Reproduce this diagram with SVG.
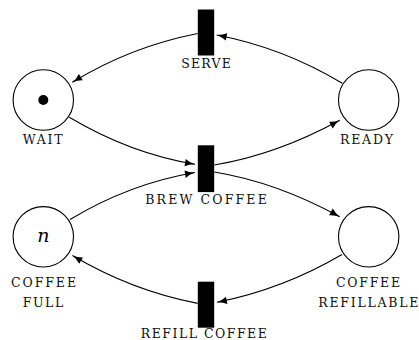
<svg xmlns="http://www.w3.org/2000/svg" width="419" height="340" viewBox="0 0 419 340">
<defs>
<style>
.place{fill:#fff;stroke:#000;stroke-width:1.1}
.trans{fill:#000}
.lbl{font-family:"DejaVu Serif","Liberation Serif",serif;font-size:12.5px;fill:#111;text-anchor:middle}
.arc{fill:none;stroke:#000;stroke-width:1.1;marker-end:url(#ah)}
.tok{fill:#000}
.var{font-family:"DejaVu Serif","Liberation Serif",serif;font-style:italic;font-size:19px;fill:#000;text-anchor:middle}
</style>
<marker id="ah" markerUnits="userSpaceOnUse" markerWidth="11" markerHeight="8" refX="10" refY="3.75" orient="auto" overflow="visible">
<path d="M0,0 Q4.5,2.9 10,3.75 Q4.5,4.6 0,7.5 Z" fill="#000"/>
</marker>
</defs>
<rect width="419" height="340" fill="#fff"/>
<g id="connectors">
<path class="arc" d="M197.7,33.5 C153,42.3 111.2,58.5 72.3,82.3"/>
<path class="arc" d="M342.3,83.3 C302,59 261,43.5 216.7,35"/>
<path class="arc" d="M69.3,117.3 C109,141 151,157 195,164.3"/>
<path class="arc" d="M214.3,165 C259,157.7 300.8,141.5 339.7,120.3"/>
<path class="arc" d="M70,219.5 C109,196 151,180 195,172.5"/>
<path class="arc" d="M214.3,172 C259,179.3 300.8,195.5 339.7,216.7"/>
<path class="arc" d="M342,254.5 C302,278 261,293.5 216.9,302.3"/>
<path class="arc" d="M197.7,303.4 C153,294.7 111.2,278.5 72.5,255.5"/>
</g>
<g id="wait">
<circle class="place" cx="43.3" cy="100" r="30.2"/>
<circle class="tok" cx="43.3" cy="100" r="5"/>
<text class="lbl" x="42.7" y="144" textLength="40">WAIT</text>
</g>
<g id="ready">
<circle class="place" cx="368.7" cy="100" r="30.2"/>
<text class="lbl" x="366.5" y="144" textLength="53">READY</text>
</g>
<g id="coffee-full">
<circle class="place" cx="43.3" cy="236.8" r="30.2"/>
<text class="var" x="43.3" y="241.7">n</text>
<text class="lbl" x="43.5" y="287" textLength="65">COFFEE</text>
<text class="lbl" x="43" y="307" textLength="40.6">FULL</text>
</g>
<g id="coffee-refillable">
<circle class="place" cx="368.7" cy="236.8" r="30.2"/>
<text class="lbl" x="368" y="286.8" textLength="64">COFFEE</text>
<text class="lbl" x="368.3" y="306.8" textLength="100">REFILLABLE</text>
</g>
<g id="serve">
<rect class="trans" x="197.8" y="9.5" width="16.4" height="46"/>
<text class="lbl" x="206" y="67.5" textLength="49.5">SERVE</text>
</g>
<g id="brew-coffee">
<rect class="trans" x="197.8" y="145.3" width="16.4" height="46.8"/>
<text class="lbl" x="206" y="204" textLength="121.5">BREW&#160;COFFEE</text>
</g>
<g id="refill-coffee">
<rect class="trans" x="197.8" y="281.7" width="16.4" height="46"/>
<text class="lbl" x="203.8" y="337.5" textLength="126">REFILL&#160;COFFEE</text>
</g>
</svg>
